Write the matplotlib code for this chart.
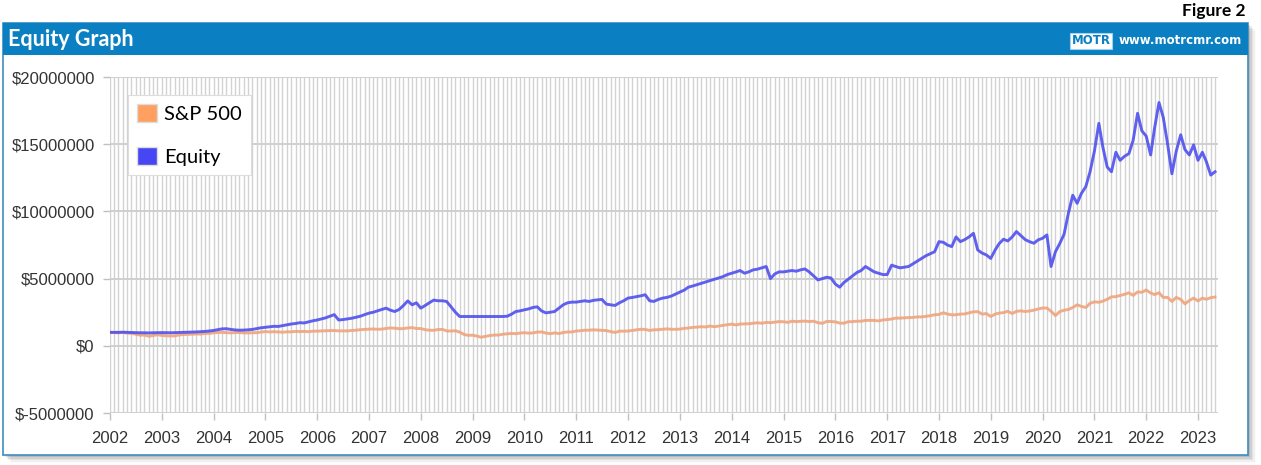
import matplotlib
matplotlib.use("Agg")
import matplotlib.pyplot as plt
import matplotlib.dates as mdates
from matplotlib.patches import Rectangle, Patch
from matplotlib.ticker import FuncFormatter
import pandas as pd

W, H = 1261, 465

# monthly values in $ millions, Jan 2002 .. May 2023 (one row per year)
equity = [
    1.00, 1.00, 1.00, 1.01, 1.00, 0.99, 0.98, 0.97, 0.97, 0.96, 0.97, 0.98,  # 2002
    0.98, 0.98, 0.97, 0.98, 0.99, 1.00, 1.01, 1.02, 1.03, 1.05, 1.07, 1.10,  # 2003
    1.14, 1.20, 1.26, 1.27, 1.22, 1.18, 1.16, 1.17, 1.19, 1.22, 1.28, 1.34,  # 2004
    1.38, 1.42, 1.45, 1.44, 1.50, 1.56, 1.62, 1.66, 1.72, 1.70, 1.78, 1.86,  # 2005
    1.92, 2.00, 2.08, 2.20, 2.32, 1.92, 1.95, 2.00, 2.05, 2.12, 2.20, 2.32,  # 2006
    2.43, 2.50, 2.60, 2.70, 2.80, 2.65, 2.55, 2.70, 3.00, 3.34, 3.05, 3.20,  # 2007
    2.80, 3.00, 3.20, 3.40, 3.35, 3.35, 3.30, 2.90, 2.50, 2.18, 2.18, 2.18,  # 2008
    2.18, 2.18, 2.18, 2.18, 2.18, 2.18, 2.18, 2.18, 2.20, 2.35, 2.55, 2.60,  # 2009
    2.68, 2.75, 2.85, 2.90, 2.60, 2.45, 2.50, 2.55, 2.80, 3.05, 3.20, 3.25,  # 2010
    3.25, 3.30, 3.35, 3.30, 3.38, 3.42, 3.45, 3.10, 3.05, 3.00, 3.20, 3.35,  # 2011
    3.55, 3.60, 3.66, 3.72, 3.80, 3.35, 3.30, 3.45, 3.55, 3.60, 3.70, 3.85,  # 2012
    4.00, 4.15, 4.36, 4.45, 4.55, 4.65, 4.75, 4.85, 4.95, 5.05, 5.15, 5.30,  # 2013
    5.40, 5.50, 5.60, 5.40, 5.50, 5.65, 5.70, 5.80, 5.90, 5.00, 5.35, 5.50,  # 2014
    5.50, 5.55, 5.60, 5.55, 5.65, 5.72, 5.50, 5.20, 4.90, 5.00, 5.10, 5.05,  # 2015
    4.60, 4.36, 4.70, 4.95, 5.20, 5.45, 5.60, 5.90, 5.70, 5.50, 5.40, 5.30,  # 2016
    5.30, 6.00, 5.90, 5.80, 5.85, 5.90, 6.10, 6.30, 6.50, 6.70, 6.85, 7.00,  # 2017
    7.75, 7.70, 7.50, 7.38, 8.10, 7.75, 7.90, 8.10, 8.37, 7.13, 6.90, 6.76,  # 2018
    6.50, 7.13, 7.60, 7.93, 7.80, 8.10, 8.50, 8.20, 7.90, 7.75, 7.63, 7.88,  # 2019
    8.00, 8.25, 5.90, 7.00, 7.60, 8.30, 9.85, 11.20, 10.60, 11.34, 11.84, 12.95,  # 2020
    14.50, 16.55, 14.80, 13.30, 12.95, 14.40, 13.80, 14.10, 14.30, 15.30, 17.30, 16.00,  # 2021
    15.60, 14.20, 16.20, 18.10, 17.00, 15.00, 12.80, 14.50, 15.70, 14.60, 14.20, 14.95,  # 2022
    13.80, 14.40, 13.70, 12.70, 12.95,  # 2023
]

sp500 = [
    1.00, 0.98, 0.96, 1.00, 0.94, 0.93, 0.86, 0.79, 0.80, 0.71, 0.77, 0.82,  # 2002
    0.77, 0.75, 0.73, 0.74, 0.80, 0.84, 0.85, 0.86, 0.88, 0.87, 0.92, 0.92,  # 2003
    0.97, 0.99, 1.00, 0.98, 0.96, 0.98, 0.99, 0.96, 0.96, 0.97, 0.98, 1.02,  # 2004
    1.06, 1.03, 1.05, 1.03, 1.01, 1.04, 1.04, 1.07, 1.06, 1.07, 1.05, 1.09,  # 2005
    1.09, 1.11, 1.12, 1.13, 1.14, 1.11, 1.11, 1.11, 1.14, 1.16, 1.20, 1.22,  # 2006
    1.24, 1.25, 1.23, 1.24, 1.29, 1.33, 1.31, 1.27, 1.28, 1.33, 1.35, 1.29,  # 2007
    1.28, 1.20, 1.16, 1.15, 1.21, 1.22, 1.11, 1.10, 1.12, 1.02, 0.84, 0.78,  # 2008
    0.79, 0.72, 0.64, 0.70, 0.76, 0.80, 0.80, 0.86, 0.89, 0.92, 0.90, 0.95,  # 2009
    0.97, 0.94, 0.96, 1.02, 1.03, 0.95, 0.90, 0.96, 0.91, 0.99, 1.03, 1.03,  # 2010
    1.10, 1.12, 1.16, 1.16, 1.19, 1.17, 1.15, 1.13, 1.06, 0.99, 1.09, 1.09,  # 2011
    1.10, 1.14, 1.19, 1.23, 1.22, 1.14, 1.19, 1.20, 1.23, 1.26, 1.23, 1.23,  # 2012
    1.24, 1.30, 1.32, 1.37, 1.39, 1.42, 1.40, 1.47, 1.42, 1.47, 1.53, 1.57,  # 2013
    1.61, 1.55, 1.62, 1.63, 1.64, 1.68, 1.71, 1.68, 1.74, 1.72, 1.76, 1.80,  # 2014
    1.79, 1.74, 1.83, 1.80, 1.82, 1.84, 1.80, 1.83, 1.72, 1.67, 1.81, 1.81,  # 2015
    1.78, 1.69, 1.68, 1.79, 1.80, 1.83, 1.83, 1.89, 1.89, 1.89, 1.85, 1.92,  # 2016
    1.95, 1.99, 2.06, 2.06, 2.08, 2.10, 2.11, 2.15, 2.15, 2.19, 2.24, 2.31,  # 2017
    2.33, 2.46, 2.36, 2.30, 2.31, 2.36, 2.37, 2.45, 2.53, 2.54, 2.36, 2.40,  # 2018
    2.18, 2.36, 2.43, 2.47, 2.57, 2.40, 2.56, 2.60, 2.55, 2.59, 2.65, 2.74,  # 2019
    2.81, 2.81, 2.57, 2.25, 2.54, 2.65, 2.70, 2.85, 3.05, 2.93, 2.85, 3.16,  # 2020
    3.27, 3.24, 3.32, 3.46, 3.64, 3.66, 3.74, 3.83, 3.94, 3.75, 4.01, 3.98,  # 2021
    4.15, 3.93, 3.81, 3.95, 3.60, 3.60, 3.30, 3.60, 3.45, 3.12, 3.37, 3.55,  # 2022
    3.34, 3.55, 3.46, 3.58, 3.63,  # 2023
]

dates = pd.date_range("2002-01-01", periods=len(equity), freq="MS")
y_ticks = [-5000000, 0, 5000000, 10000000, 15000000, 20000000]
series_labels = ["S&P 500", "Equity"]


def fx(px):
    return px / W


def fy(py):
    return 1 - py / H


fig = plt.figure(figsize=(W / 100, H / 100), dpi=100)

# drop shadow + panel
for i, a in enumerate([0.10, 0.08, 0.06, 0.04, 0.02]):
    off = 2 + i * 1.5
    fig.patches.append(Rectangle((fx(3 + off), fy(455 + off)), (1248 - 3) / W, (455 - 23) / H,
                                 transform=fig.transFigure, facecolor="black", alpha=a,
                                 edgecolor="none", zorder=0))
fig.patches.append(Rectangle((fx(3), fy(455)), (1248 - 3) / W, (455 - 23) / H,
                             transform=fig.transFigure, facecolor="white",
                             edgecolor="#3d8cc0", lw=1.2, zorder=1))
# header bar
fig.patches.append(Rectangle((fx(3), fy(55)), (1248 - 3) / W, 32 / H,
                             transform=fig.transFigure, facecolor="#0a80c2",
                             edgecolor="none", zorder=2))
fig.text(fx(8), fy(40), "Equity Graph", color="white", fontsize=15.5, fontweight="bold",
         family="Lato", va="center", ha="left", zorder=3)
fig.text(fx(1242), fy(41), "www.motrcmr.com", color="white", fontsize=8.5, fontweight="bold",
         family="DejaVu Sans", va="center", ha="right", zorder=3)
fig.text(fx(1091), fy(41), "MOTR", color="#0a80c2", fontsize=8.5, fontweight="bold",
         family="DejaVu Sans", va="center", ha="center", zorder=3,
         bbox=dict(boxstyle="square,pad=0.15", facecolor="white", edgecolor="#9fd0f0", lw=0.8))
fig.text(fx(1246), fy(11), "Figure 2", color="black", fontsize=12.5, fontweight="bold",
         family="Lato", va="center", ha="right")

ax = fig.add_axes([fx(110), fy(413), 1108 / W, 336 / H])
ax.set_zorder(5)
ax.patch.set_alpha(0)

ax.plot(dates, [v * 1e6 for v in sp500], color="#f0a47c", lw=2.1, alpha=0.9,
        solid_joinstyle="round", zorder=3)
ax.plot(dates, [v * 1e6 for v in equity], color="#5050ee", lw=2.1, alpha=0.9,
        solid_joinstyle="round", zorder=4)

ax.set_xlim(pd.Timestamp("2002-01-01"), pd.Timestamp("2023-05-22"))
ax.set_ylim(-5000000, 20000000)
ax.set_yticks(y_ticks)
ax.yaxis.set_major_formatter(FuncFormatter(lambda v, p: f"${int(v)}"))
ax.xaxis.set_major_locator(mdates.YearLocator())
ax.xaxis.set_major_formatter(mdates.DateFormatter("%Y"))
ax.xaxis.set_minor_locator(mdates.MonthLocator())

ax.grid(axis="x", which="both", color="#d2d2d2", lw=1.0, zorder=1)
ax.grid(axis="y", which="major", color="#cfcfcf", lw=1.4, zorder=1)
ax.set_axisbelow(True)
for s in ax.spines.values():
    s.set_visible(False)

ax.tick_params(axis="both", which="major", color="#c0c0c0", length=5, width=1,
               labelsize=12, labelcolor="#333333")
ax.tick_params(axis="x", which="major", pad=8)
ax.tick_params(axis="y", which="major", pad=6)
ax.tick_params(axis="x", which="minor", length=0)
for lab in ax.get_xticklabels() + ax.get_yticklabels():
    lab.set_family("Liberation Sans")

handles = [Patch(facecolor="#ff9f60", edgecolor="#dddddd"),
           Patch(facecolor="#4646f5", edgecolor="#dddddd")]
leg = ax.legend(handles, series_labels, loc="upper left",
                bbox_to_anchor=((128 - 110) / 1108, (413 - 95) / 336),
                borderaxespad=0, fancybox=False, framealpha=1, edgecolor="#dddddd",
                prop={"family": "Lato", "size": 14.5}, handlelength=1.0, handleheight=1.0,
                labelspacing=1.2, handletextpad=0.35, borderpad=0.45)
leg.get_frame().set_linewidth(0.8)

fig.savefig("out.png", dpi=100)
